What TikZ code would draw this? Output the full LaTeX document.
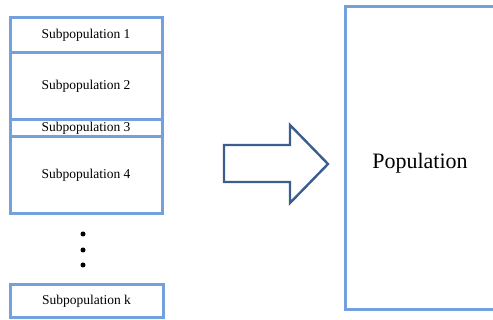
\documentclass[tikz,border=0pt]{standalone}
\usepackage{fontspec}
\setmainfont{Liberation Serif}
\definecolor{boxblue}{RGB}{116,160,222}
\definecolor{arrowblue}{RGB}{60,94,142}
\tikzset{
    subbox/.style={draw=boxblue, line width=3pt, fill=white, minimum width=152, inner sep=0pt, font=\fontsize{13.5}{15}\selectfont},
    dot/.style={circle, fill=black, inner sep=0pt, minimum size=5}
}

\begin{document}
\begin{tikzpicture}[x=1pt, y=-1pt]
            \clip (0, 0) rectangle (493, 320);
            \draw
            (86, 35.5) node[subbox, minimum height=35](s1) {Subpopulation 1}
            (86, 86.5) node[subbox, minimum height=67](s2) {Subpopulation 2}
            (86, 128.5) node[subbox, minimum height=17](s3) {Subpopulation 3}
            (86, 175.5) node[subbox, minimum height=77](s4) {Subpopulation 4}
            (83, 234) node[dot](d1) {}
            (83, 250) node[dot](d2) {}
            (83, 265) node[dot](d3) {}
            (86.5, 301.5) node[subbox, minimum height=33, minimum width=153](sk) {Subpopulation k}
            (420, 158.5) node[draw=boxblue, line width=3pt, minimum width=150, minimum height=303, text height=24pt, font=\fontsize{22}{26}\selectfont](pop) {Population};
            \draw[arrowblue, line width=2.4pt, line join=miter]
            (224, 145) -- (290, 145) -- (290, 125) -- (328, 164) -- (290, 203) -- (290, 182) -- (224, 182) -- cycle;
        \end{tikzpicture}
\end{document}
